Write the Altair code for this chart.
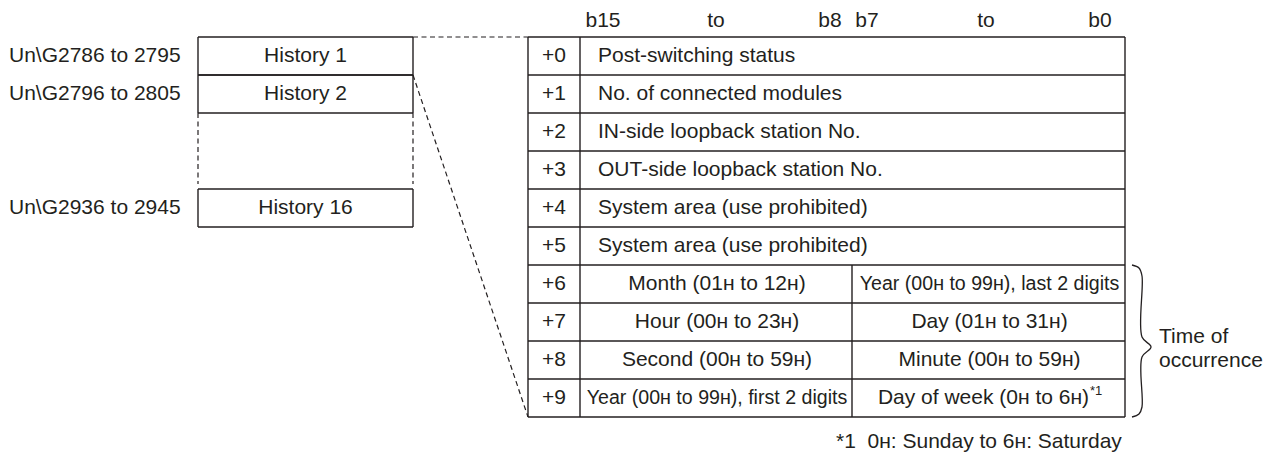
import altair as alt
import pandas as pd

# ---- content -------------------------------------------------------------
offsets = ["+0", "+1", "+2", "+3", "+4", "+5", "+6", "+7", "+8", "+9"]
word_labels = [
    "Post-switching status",
    "No. of connected modules",
    "IN-side loopback station No.",
    "OUT-side loopback station No.",
    "System area (use prohibited)",
    "System area (use prohibited)",
]
upper_byte = [
    "Month (01ʜ to 12ʜ)",
    "Hour (00ʜ to 23ʜ)",
    "Second (00ʜ to 59ʜ)",
    "Year (00ʜ to 99ʜ), first 2 digits",
]
lower_byte = [
    "Year (00ʜ to 99ʜ), last 2 digits",
    "Day (01ʜ to 31ʜ)",
    "Minute (00ʜ to 59ʜ)",
    "Day of week (0ʜ to 6ʜ)",
]
history_names = ["History 1", "History 2", "History 16"]
history_addresses = ["Un\\G2786 to 2795", "Un\\G2796 to 2805", "Un\\G2936 to 2945"]
bit_labels = ["b15", "to", "b8", "b7", "to", "b0"]
brace_label = ["Time of", "occurrence"]
note_mark = "*1"
footnote = "*1\u00a0\u00a00ʜ: Sunday to 6ʜ: Saturday"

# ---- layout (page pixel coordinates) -------------------------------------
TOP, ROW = 37, 38
TL, TC, TM, TR = 528, 580, 852, 1125
HL, HR = 198, 413
hist_rows = [0, 1, 4]
bit_x = [603, 716, 830, 867, 986, 1100]
INK = "#231f20"
FONT = "Liberation Sans"
FS = 21
FS_TIGHT = 19.6


def ry(i):
    return TOP + ROW * i


def rc(i):
    return TOP + ROW * i + ROW / 2


solid = []
dashed = []
# table
for k in range(len(offsets) + 1):
    solid.append((TL, ry(k), TR, ry(k)))
for xv in (TL, TC, TR):
    solid.append((xv, ry(0), xv, ry(len(offsets))))
solid.append((TM, ry(len(word_labels)), TM, ry(len(offsets))))
# history boxes
for r in hist_rows:
    solid.append((HL, ry(r), HR, ry(r)))
    solid.append((HL, ry(r + 1), HR, ry(r + 1)))
    solid.append((HL, ry(r), HL, ry(r + 1)))
    solid.append((HR, ry(r), HR, ry(r + 1)))
# dashed connectors
for xv in (HL, HR):
    dashed.append((xv, ry(2), xv, ry(4) - 5))
dashed.append((HR, ry(0), TL, ry(0)))
dashed.append((HR, ry(1), TL, ry(len(offsets))))

cols = ["x", "y", "x2", "y2"]
solid_df = pd.DataFrame(solid, columns=cols)
dashed_df = pd.DataFrame(dashed, columns=cols)

left_txt = []
center_txt = []
for i, t in enumerate(offsets):
    center_txt.append((t, (TL + TC) / 2, rc(i), FS))
for i, t in enumerate(word_labels):
    left_txt.append((t, TC + 18, rc(i), FS))
n0 = len(word_labels)
for i, t in enumerate(upper_byte):
    fs = FS_TIGHT if i == len(upper_byte) - 1 else FS
    center_txt.append((t, (TC + TM) / 2 + 1, rc(n0 + i), fs))
for i, t in enumerate(lower_byte):
    if i == len(lower_byte) - 1:
        continue
    fs = FS_TIGHT if i == 0 else FS
    center_txt.append((t, (TM + TR) / 2 + 1, rc(n0 + i), fs))
for r, name, addr in zip(hist_rows, history_names, history_addresses):
    center_txt.append((name, (HL + HR) / 2, rc(r), FS))
    left_txt.append((addr, 9, rc(r), FS))
for xv, t in zip(bit_x, bit_labels):
    center_txt.append((t, xv, 20.5, FS))
left_txt.append((brace_label[0], 1159, 337, FS))
left_txt.append((brace_label[1], 1159, 361, FS))
left_txt.append((footnote, 836, 442, FS))

right_txt = [(lower_byte[-1], 1089, rc(9), FS)]
sup_txt = [(note_mark, 1090, rc(9) - 7, 13)]

tcols = ["text", "x", "y", "fs"]
left_df = pd.DataFrame(left_txt, columns=tcols)
center_df = pd.DataFrame(center_txt, columns=tcols)
right_df = pd.DataFrame(right_txt, columns=tcols)
sup_df = pd.DataFrame(sup_txt, columns=tcols)

brace_pts = [
    (1132, 265), (1139, 268), (1142, 276), (1142, 337), (1151, 347),
    (1142, 357), (1142, 407), (1139, 414), (1132, 417),
]
brace_df = pd.DataFrame(
    [(i, x, y) for i, (x, y) in enumerate(brace_pts)], columns=["i", "x", "y"]
)

# ---- chart -----------------------------------------------------------------
W, H = 1259, 444
xs = alt.Scale(domain=[8, 8 + W], nice=False, zero=False)
ys = alt.Scale(domain=[8, 8 + H], nice=False, zero=False, reverse=True)
X = alt.X("x:Q", scale=xs, axis=None)
Y = alt.Y("y:Q", scale=ys, axis=None)

solid_layer = alt.Chart(solid_df).mark_rule(color=INK, strokeWidth=1.4).encode(
    x=X, y=Y, x2="x2:Q", y2="y2:Q"
)
dashed_layer = alt.Chart(dashed_df).mark_rule(
    color=INK, strokeWidth=1.2, strokeDash=[5, 3.5]
).encode(x=X, y=Y, x2="x2:Q", y2="y2:Q")


def text_layer(df, align):
    return alt.Chart(df).mark_text(
        align=align, baseline="middle", font=FONT, color=INK
    ).encode(
        x=X, y=Y, text="text:N", size=alt.Size("fs:Q", scale=None, legend=None)
    )


brace_layer = alt.Chart(brace_df).mark_line(
    color=INK, strokeWidth=1.3, interpolate="catmull-rom"
).encode(x=X, y=Y, order="i:Q")

chart = alt.layer(
    solid_layer,
    dashed_layer,
    brace_layer,
    text_layer(left_df, "left"),
    text_layer(center_df, "center"),
    text_layer(right_df, "right"),
    text_layer(sup_df, "left"),
).properties(width=W, height=H, padding=0, autosize="none").configure_view(
    stroke=None
)

chart.save("out.html", embed_options={"renderer": "svg", "actions": False})
